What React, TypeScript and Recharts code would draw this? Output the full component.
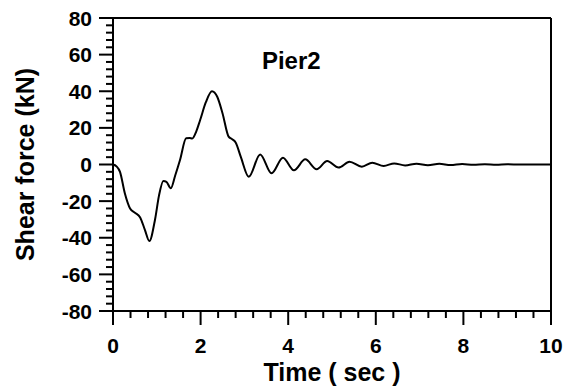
import React from 'react'
import { LineChart, Line, XAxis, YAxis, ReferenceLine, ReferenceDot } from 'recharts'

// time (sec) and shear force (kN)
const times = [
  0, 0.08, 0.16, 0.27, 0.39, 0.5, 0.62, 0.73, 0.83, 0.96, 1.05, 1.15, 1.22, 1.32, 1.42, 1.53, 1.67,
  1.75, 1.81, 1.9, 1.99, 2.12, 2.26, 2.38, 2.5, 2.64, 2.72, 2.8, 2.92, 3.1, 3.36, 3.62, 3.88, 4.13,
  4.39, 4.65, 4.89, 5.15, 5.4, 5.68, 5.92, 6.18, 6.42, 6.67, 6.93, 7.19, 7.45, 7.71, 7.97, 8.23,
  8.49, 8.75, 9.0, 9.3, 10,
]
const shear = [
  0, -1, -4, -15.7, -24, -26.3, -28.9, -35.8, -41.8, -30, -17, -9, -9.5, -13, -6, 2.5, 14.3,
  14.5, 14.2, 18, 24.3, 34, 40, 37, 28, 15.2, 13.8, 12, 4, -6.7, 5.5, -4.8, 3.7, -3.2,
  2.8, -2.6, 1.9, -1.7, 1.5, -1.2, 1, -0.8, 0.6, -0.5, 0.45, -0.4, 0.35, -0.3, 0.3, -0.2,
  0.2, -0.15, 0.1, 0, 0,
]

const xMajor = [0, 2, 4, 6, 8, 10]
const xMinorStep = 0.4
const yMajor = [-80, -60, -40, -20, 0, 20, 40, 60, 80]
const yMinorStep = 4

const data = times.map((t, i) => ({ t, v: shear[i] }))

const xTicks: number[] = []
for (let i = 0; i <= 25; i++) xTicks.push(Math.round(i * xMinorStep * 10) / 10)
const yTicks: number[] = []
for (let i = 0; i <= 40; i++) yTicks.push(-80 + i * yMinorStep)

const FONT = '"Liberation Sans", Arial, Helvetica, sans-serif'

const XTick = ({ x, y, payload }: any) => {
  const major = xMajor.includes(payload.value)
  return (
    <g>
      <line x1={x} x2={x} y1={y} y2={y + (major ? 14 : 7)} stroke="#000" strokeWidth={2} />
      {major && (
        <text x={x} y={y + 42} textAnchor="middle" fontFamily={FONT} fontWeight="bold" fontSize={21} fill="#000">
          {payload.value}
        </text>
      )}
    </g>
  )
}

const YTick = ({ x, y, payload }: any) => {
  const major = yMajor.includes(payload.value)
  return (
    <g>
      <line x1={x - (major ? 14 : 7)} x2={x} y1={y} y2={y} stroke="#000" strokeWidth={2} />
      {major && (
        <text x={x - 21} y={y + 7.5} textAnchor="end" fontFamily={FONT} fontWeight="bold" fontSize={21} fill="#000">
          {payload.value}
        </text>
      )}
    </g>
  )
}

const YTitle = ({ viewBox }: any) => {
  const cy = viewBox.y + viewBox.height / 2
  return (
    <text
      x={25}
      y={cy}
      transform={`rotate(-90, 25, ${cy})`}
      textAnchor="middle"
      dominantBaseline="central"
      fontFamily={FONT}
      fontWeight="bold"
      fontSize={25}
      fill="#000"
    >
      Shear force (kN)
    </text>
  )
}

const XTitle = ({ viewBox }: any) => (
  <text
    x={viewBox.x + viewBox.width / 2}
    y={381}
    textAnchor="middle"
    fontFamily={FONT}
    fontWeight="bold"
    fontSize={25}
    fill="#000"
  >
    Time ( sec )
  </text>
)

const App = () => {
  return (
    <div style={{ position: 'absolute', left: 0, top: 0, background: '#fff' }}>
      <LineChart width={572} height={390} data={data} margin={{ top: 18, right: 21, left: 0, bottom: 0 }}>
        <XAxis
          dataKey="t"
          type="number"
          domain={[0, 10]}
          ticks={xTicks}
          interval={0}
          tickSize={0}
          tickMargin={0}
          tickLine={false}
          tick={<XTick />}
          axisLine={{ stroke: '#000', strokeWidth: 2 }}
          height={79}
          label={<XTitle />}
        />
        <YAxis
          type="number"
          domain={[-80, 80]}
          ticks={yTicks}
          interval={0}
          tickSize={0}
          tickMargin={0}
          tickLine={false}
          tick={<YTick />}
          axisLine={{ stroke: '#000', strokeWidth: 2 }}
          width={113}
          label={<YTitle />}
        />
        <ReferenceLine y={80} stroke="#000" strokeWidth={2} />
        <ReferenceLine x={10} stroke="#000" strokeWidth={2} />
        <ReferenceDot
          x={4.07}
          y={57}
          r={0}
          fill="none"
          stroke="none"
          label={{ value: 'Pier2', position: 'center', fontFamily: FONT, fontWeight: 'bold', fontSize: 24, fill: '#000' }}
        />
        <Line
          type="monotone"
          dataKey="v"
          stroke="#000"
          strokeWidth={2}
          dot={false}
          isAnimationActive={false}
        />
      </LineChart>
    </div>
  )
}

export default App
